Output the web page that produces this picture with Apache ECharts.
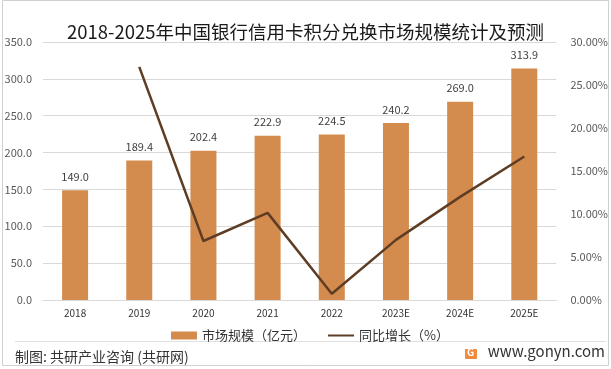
<!DOCTYPE html>
<html><head><meta charset="utf-8">
<script src="https://cdn.jsdelivr.net/npm/echarts@6/dist/echarts.min.js"></script>
<style>html,body{margin:0;padding:0;background:#fff}#c{width:611px;height:369px}</style>
</head><body><div id="c"></div>
<script>
const categories = ['2018','2019','2020','2021','2022','2023E','2024E','2025E'];
const marketSize = [149.0, 189.4, 202.4, 222.9, 224.5, 240.2, 269.0, 313.9];
const yoyGrowth = [null, 27.11, 6.86, 10.13, 0.72, 6.99, 11.99, 16.69];
const leftTicks = [0, 50, 100, 150, 200, 250, 300, 350];
const rightTicks = [0, 5, 10, 15, 20, 25, 30];

const FONT = '"Noto Sans CJK SC","Noto Sans",sans-serif';
const chart = echarts.init(document.getElementById('c'), null, {renderer:'canvas'});
chart.setOption({
  animation:false,
  backgroundColor:'#fff',
  title:{text:'2018-2025年中国银行信用卡积分兑换市场规模统计及预测',left:'center',top:18,
    textStyle:{fontFamily:FONT,fontSize:18.5,fontWeight:'normal',color:'#1a1a1a'}},
  grid:{left:43,right:54,top:42,bottom:69},
  legend:{top:324,left:166,itemGap:22,itemWidth:26,itemHeight:8,
    textStyle:{fontFamily:FONT,fontSize:13,color:'#333'},
    data:[{name:'市场规模（亿元）',icon:'rect'},{name:'同比增长（%）',icon:'path://M0,3 L26,3 L26,5 L0,5 Z'}]},
  xAxis:{type:'category',data:categories,
    axisLine:{show:true,lineStyle:{color:'#d9d9d9'}},axisTick:{show:false},
    axisLabel:{fontFamily:FONT,fontSize:10,color:'#333',margin:8}},
  yAxis:[{type:'value',min:leftTicks[0],max:leftTicks[leftTicks.length-1],interval:50,
    axisLabel:{formatter:v=>v.toFixed(1),fontFamily:FONT,fontSize:11,color:'#595959',margin:11},
    splitLine:{lineStyle:{color:'#d9d9d9'}},axisLine:{show:false},axisTick:{show:false}},
   {type:'value',min:rightTicks[0],max:rightTicks[rightTicks.length-1],interval:5,
    axisLabel:{formatter:v=>v.toFixed(2)+'%',fontFamily:FONT,fontSize:11,color:'#595959',margin:14},
    splitLine:{show:false},axisLine:{show:false},axisTick:{show:false}}],
  series:[{name:'市场规模（亿元）',type:'bar',data:marketSize,barWidth:26,
    itemStyle:{color:'#D48C4E'},
    label:{show:true,position:'top',formatter:p=>p.value.toFixed(1),fontFamily:FONT,fontSize:11,color:'#404040',distance:8}},
   {name:'同比增长（%）',type:'line',yAxisIndex:1,data:yoyGrowth,symbol:'none',
    lineStyle:{color:'#5E3D24',width:2.5},itemStyle:{color:'#5E3D24'}}],
  graphic:[
    {type:'rect',shape:{x:2.5,y:0.5,width:606,height:365},style:{fill:'none',stroke:'#d0d0d0',lineWidth:1},silent:true},
    {type:'line',shape:{x1:15,y1:341.5,x2:606,y2:341.5},style:{stroke:'#e0e0e0',lineWidth:1}},
    {type:'text',left:15,top:350,style:{text:'制图: 共研产业咨询 (共研网)',fontFamily:FONT,fontSize:14,fill:'#333'}},
    {type:'rect',shape:{x:465,y:349,width:12,height:10,r:1},style:{fill:'#F08A3C'}},
    {type:'text',left:467,top:347,style:{text:'G',fontFamily:FONT,fontSize:10,fontWeight:'bold',fill:'#fff'}},
    {type:'text',right:6,top:344,style:{text:'www.gonyn.com',fontFamily:FONT,fontSize:15,fill:'#333'}}
  ]
});
</script></body></html>
